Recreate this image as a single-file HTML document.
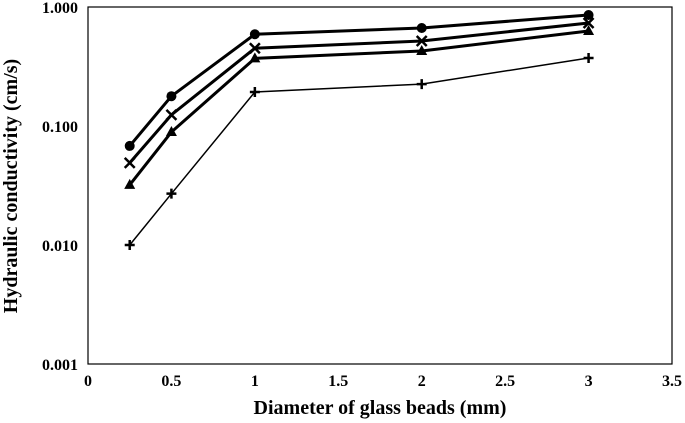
<!DOCTYPE html>
<html><head><meta charset="utf-8"><style>
body{margin:0;background:#fff}
svg{display:block;font-family:"Liberation Serif",serif;font-weight:bold}
</style></head><body>
<svg id="c" width="685" height="423" viewBox="0 0 685 423">
<rect x="88" y="7" width="584" height="357" fill="none" stroke="#000" stroke-width="1.2"/>
<g id="g"></g>
<text x="380" y="414" text-anchor="middle" font-size="20">Diameter of glass beads (mm)</text>
<text transform="translate(17,186) rotate(-90)" text-anchor="middle" font-size="20">Hydraulic conductivity (cm/s)</text>
</svg>
<script>
const xVals=[0.25,0.5,1,2,3];
const circleSeries=[0.068,0.178,0.59,0.666,0.857];
const crossSeries=[0.049,0.124,0.45,0.518,0.734];
const triSeries=[0.032,0.089,0.37,0.427,0.628];
const plusSeries=[0.010,0.027,0.193,0.225,0.373];
const xTicks=[0,0.5,1,1.5,2,2.5,3,3.5];
const xTickLabels=["0","0.5","1","1.5","2","2.5","3","3.5"];
const yTicks=[1,0.1,0.01,0.001];
const yTickLabels=["1.000","0.100","0.010","0.001"];
const X=v=>88+v*(584/3.5);
const Y=v=>7+(0-Math.log10(v))*119;
const g=document.getElementById('g');
const NS='http://www.w3.org/2000/svg';
function mk(t,a){const e=document.createElementNS(NS,t);for(const k in a)e.setAttribute(k,a[k]);g.appendChild(e);return e;}
xTicks.forEach((v,i)=>{const t=mk('text',{x:X(v),y:386,'text-anchor':'middle','font-size':16});t.textContent=xTickLabels[i];

});
yTicks.forEach((v,i)=>{const t=mk('text',{x:78,y:Y(v)+6,'text-anchor':'end','font-size':16});t.textContent=yTickLabels[i];

});
function series(data,w,marker,name){
 const l=mk('polyline',{points:xVals.map((x,i)=>X(x)+','+Y(data[i])).join(' '),fill:'none',stroke:'#000','stroke-width':w});
 
 
 xVals.forEach((x,i)=>{const cx=X(x),cy=Y(data[i]);let m;
  if(marker==='circle')m=mk('circle',{cx:cx,cy:cy,r:5,fill:'#000'});
  else if(marker==='tri')m=mk('polygon',{points:`${cx},${cy-6} ${cx-5.5},${cy+4} ${cx+5.5},${cy+4}`,fill:'#000'});
  else if(marker==='cross')m=mk('path',{d:`M${cx-5},${cy-5}L${cx+5},${cy+5}M${cx+5},${cy-5}L${cx-5},${cy+5}`,stroke:'#000','stroke-width':2.5});
  else m=mk('path',{d:`M${cx-5},${cy}L${cx+5},${cy}M${cx},${cy-5}L${cx},${cy+5}`,stroke:'#000','stroke-width':2.5});
  
  
 });
}
series(circleSeries,3,'circle','circle-series');
series(crossSeries,3,'cross','cross-series');
series(triSeries,3,'tri','triangle-series');
series(plusSeries,1.5,'plus','plus-series');
</script>
</body></html>
